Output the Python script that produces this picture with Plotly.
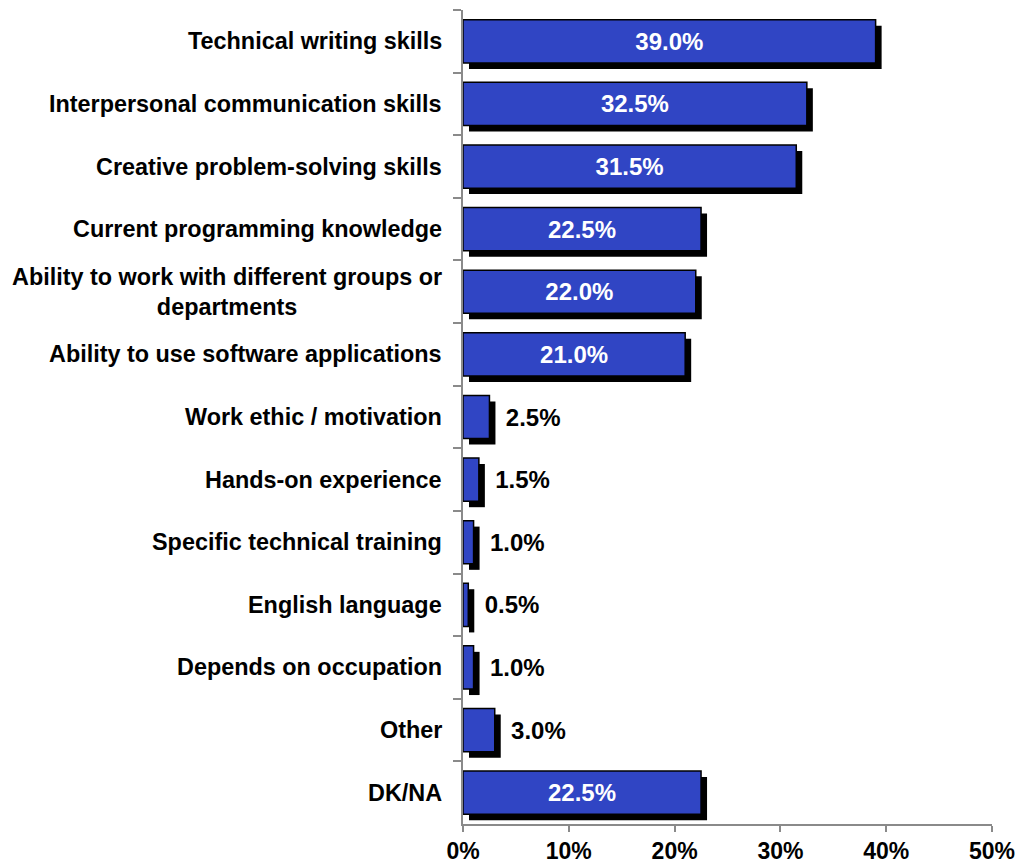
import plotly.graph_objects as go

categories = [
    "Technical writing skills",
    "Interpersonal communication skills",
    "Creative problem-solving skills",
    "Current programming knowledge",
    "Ability to work with different groups or<br>departments",
    "Ability to use software applications",
    "Work ethic / motivation",
    "Hands-on experience",
    "Specific technical training",
    "English language",
    "Depends on occupation",
    "Other",
    "DK/NA",
]
values = [39.0, 32.5, 31.5, 22.5, 22.0, 21.0, 2.5, 1.5, 1.0, 0.5, 1.0, 3.0, 22.5]
x_ticks = [0, 10, 20, 30, 40, 50]

BLUE = "#3045C4"
AXIS = "#8a8a8a"
FONT = "Liberation Sans, Arial, sans-serif"
W = 0.69
px_per_unit_x = 105.8 / 10.0
px_per_cat = 62.8
shadow_dx = 6 / px_per_unit_x
shadow_dy = 6 / px_per_cat

inside = [v >= 10 for v in values]
texts = [f"{v:.1f}%" if ins else f"\u00a0\u00a0{v:.1f}%" for v, ins in zip(values, inside)]
textpos = ["inside" if ins else "outside" for ins in inside]
textcolors = ["white" if ins else "black" for ins in inside]

fig = go.Figure()
fig.add_trace(go.Bar(
    y=categories, x=values, base=[shadow_dx] * len(values), orientation="h",
    width=W, offset=-W / 2 + shadow_dy,
    marker=dict(color="black", line=dict(width=0)),
    hoverinfo="skip", showlegend=False,
))
fig.add_trace(go.Bar(
    y=categories, x=values, orientation="h",
    width=W, offset=-W / 2,
    marker=dict(color=BLUE, line=dict(color="black", width=1.5)),
    text=texts, textposition=textpos, insidetextanchor="middle",
    textfont=dict(family=FONT, size=24, color=textcolors, weight="bold"),
    insidetextfont=dict(family=FONT, size=24, color="white", weight="bold"),
    outsidetextfont=dict(family=FONT, size=24, color="black", weight="bold"),
    cliponaxis=False, showlegend=False,
))

for c in categories:
    fig.add_annotation(
        x=0, xref="paper", xanchor="right", xshift=-19,
        y=c, yref="y", text=c, showarrow=False, align="center",
        font=dict(family=FONT, size=23.4, color="black", weight="bold"),
    )

fig.update_layout(
    width=1015, height=858,
    margin=dict(l=455, r=31, t=2, b=40),
    barmode="overlay",
    plot_bgcolor="white", paper_bgcolor="white",
    uniformtext=dict(mode=False),
    xaxis=dict(
        range=[0, 50], tickvals=x_ticks, ticktext=[f"{t}%" for t in x_ticks],
        showgrid=False, zeroline=False, showline=True, linecolor=AXIS, linewidth=1.5,
        ticks="outside", ticklen=6, tickcolor=AXIS, tickwidth=1.5,
        tickfont=dict(family=FONT, size=23, color="black", weight="bold"),
    ),
    yaxis=dict(
        autorange=False, range=[len(categories) - 0.5, -0.5],
        type="category", categoryorder="array", categoryarray=categories,
        showgrid=False, zeroline=False, showline=True, linecolor=AXIS, linewidth=1.5,
        ticks="outside", ticklen=8, tickcolor=AXIS, tickwidth=1.5, tickson="boundaries",
        showticklabels=False,
    ),
)

fig.write_html("out.html")
